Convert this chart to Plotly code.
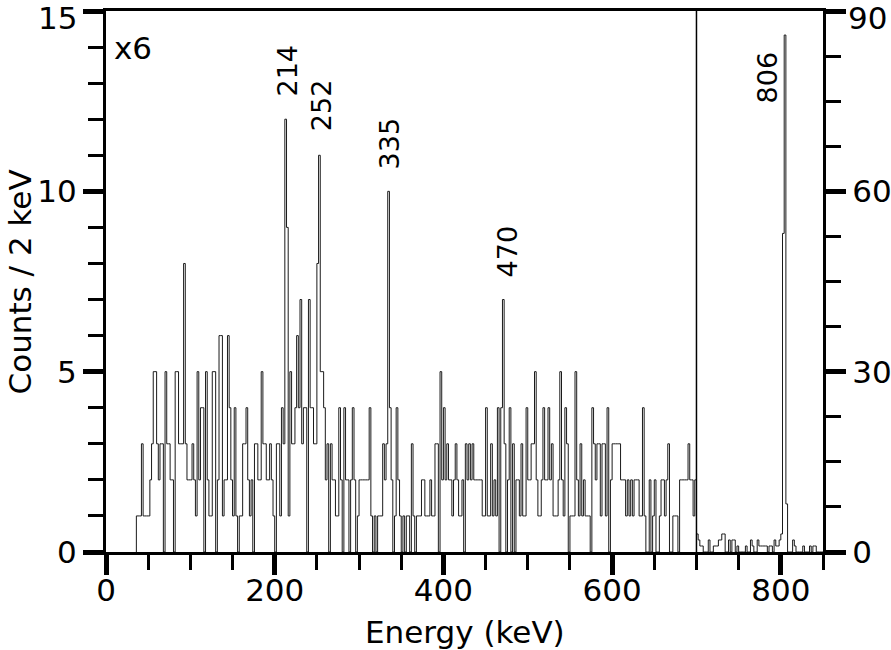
import plotly.graph_objects as go

# ---- data ----
low_start_kev = 36
bin_kev = 2
counts_low = [
    1,1,1,3,1,1,1,1,2,3,
    5,5,3,2,3,3,0,5,3,3,
    2,2,0,5,5,3,3,3,8,3,
    2,2,2,3,2,1,5,2,4,4,
    0,5,2,1,1,5,5,0,2,6,
    6,1,2,2,6,4,2,1,4,1,
    0,1,1,3,3,4,2,1,2,0,
    3,3,2,2,5,3,3,2,2,3,
    2,1,0,3,3,1,4,3,12,9,
    1,5,3,3,4,6,4,7,3,4,
    4,0,7,4,4,3,3,8,11,5,
    5,4,2,3,0,3,2,2,1,1,
    4,2,0,4,2,2,0,2,4,2,
    0,1,2,2,2,2,2,2,4,1,
    0,1,0,1,1,1,3,2,3,10,
    4,2,0,1,4,2,1,0,1,0,
    1,1,0,3,1,0,1,1,1,2,
    2,1,1,1,2,1,1,3,3,0,
    5,2,4,2,3,2,2,1,2,3,
    2,1,1,2,0,3,2,3,2,3,
    2,2,2,2,2,1,1,4,1,1,
    3,1,2,1,4,0,4,7,3,0,
    2,4,0,3,0,2,2,1,3,1,
    1,4,2,2,3,3,5,2,1,1,
    2,4,2,2,4,2,3,1,1,1,
    2,5,2,1,4,3,0,1,1,1,
    5,2,1,3,1,2,1,1,1,0,
    4,3,2,3,3,1,3,3,1,4,
    0,2,3,3,3,3,3,2,2,2,
    1,2,1,2,1,2,2,2,1,1,
    4,1,0,0,2,0,1,2,0,0,
    1,2,2,1,2,3,0,0,1,1,
    1,0,2,2,2,2,2,3,2,2,
    1,2,
]
high_start_kev = 700
counts_high = [
    3,2,1,1,0,0,0,2,0,0,
    1,1,1,2,2,3,3,0,0,2,
    0,2,2,0,1,0,0,0,0,1,
    0,0,2,1,0,0,2,1,1,1,
    1,1,0,1,1,0,2,1,1,2,
    3,53,86,8,0,0,0,2,1,0,
    0,0,0,1,0,0,0,1,0,1,
    1,0,0,0,0,
]
peak_labels = ["214", "252", "335", "470"]
peak_label_x = [215, 255, 336, 476]
peak_label_y = [13.36, 12.39, 11.34, 8.32]
high_peak_label = "806"
high_peak_label_x = 784
high_peak_label_y = 79.0
scale_label = "x6"

x_range = [0, 850]
x_ticks = [0, 200, 400, 600, 800]
y_range = [0, 15]
y_ticks = [0, 5, 10, 15]
y2_range = [0, 90]
y2_ticks = [0, 30, 60, 90]


def step_xy(start, width, vals):
    xs = [start]
    ys = [0]
    for i, v in enumerate(vals):
        xs.append(start + i * width)
        ys.append(v)
    xs.append(start + len(vals) * width)
    ys.append(vals[-1])
    return xs, ys


xl, yl = step_xy(low_start_kev, bin_kev, counts_low)
xh, yh = step_xy(high_start_kev, bin_kev, counts_high)

FONT = "DejaVu Sans"
LINE = "#1a1a1a"
TICK_SIZE = 31
TITLE_SIZE = 31

fig = go.Figure()
fig.add_trace(go.Scatter(x=xl, y=yl, mode="lines", line=dict(shape="hv", color=LINE, width=1),
                         showlegend=False, hoverinfo="skip"))
fig.add_trace(go.Scatter(x=xh, y=yh, mode="lines", line=dict(shape="hv", color=LINE, width=1),
                         yaxis="y2", showlegend=False, hoverinfo="skip"))

fig.add_shape(type="line", xref="x", yref="paper", x0=high_start_kev, x1=high_start_kev, y0=0, y1=1,
              line=dict(color="black", width=1.5))

for t, x, y in zip(peak_labels, peak_label_x, peak_label_y):
    fig.add_annotation(x=x, y=y, xref="x", yref="y", text=t, showarrow=False, textangle=-90,
                       font=dict(family=FONT, size=27, color="black"))
fig.add_annotation(x=high_peak_label_x, y=high_peak_label_y, xref="x", yref="y2", text=high_peak_label,
                   showarrow=False, textangle=-90, font=dict(family=FONT, size=27, color="black"))
fig.add_annotation(x=0.009, y=0.968, xref="paper", yref="paper", text=scale_label, showarrow=False,
                   xanchor="left", yanchor="top", font=dict(family=FONT, size=TITLE_SIZE, color="black"))

# top tick labels placed so they stay inside the page
fig.add_annotation(x=0, y=1, xref="paper", yref="paper", text=str(y_ticks[-1]), showarrow=False,
                   xanchor="right", yanchor="top", xshift=-27, yshift=13,
                   font=dict(family=FONT, size=TICK_SIZE, color="black"))
fig.add_annotation(x=1, y=1, xref="paper", yref="paper", text=str(y2_ticks[-1]), showarrow=False,
                   xanchor="left", yanchor="top", xshift=23, yshift=13,
                   font=dict(family=FONT, size=TICK_SIZE, color="black"))

# axis titles
fig.add_annotation(x=0.5, y=-0.148, xref="paper", yref="paper", text="Energy (keV)", showarrow=False,
                   xanchor="center", yanchor="middle", font=dict(family=FONT, size=TITLE_SIZE, color="black"))
fig.add_annotation(x=-0.120, y=0.5, xref="paper", yref="paper", text="Counts / 2 keV", showarrow=False,
                   textangle=-90, xanchor="center", yanchor="middle",
                   font=dict(family=FONT, size=TITLE_SIZE, color="black"))

axis_common = dict(showline=True, linewidth=3, linecolor="black", ticks="outside", ticklen=20,
                   tickwidth=5, tickcolor="black", showgrid=False, zeroline=False,
                   automargin=False,
                   tickfont=dict(family=FONT, size=TICK_SIZE, color="black"))

fig.update_layout(
    width=891, height=650,
    margin=dict(l=106, r=68, t=11, b=98),
    paper_bgcolor="white", plot_bgcolor="white",
    xaxis=dict(range=x_range, tickmode="array", tickvals=x_ticks, mirror=True,
               ticklabelstandoff=-11,
               minor=dict(tick0=0, dtick=50, ticklen=15, tickwidth=2.5, tickcolor="black", ticks="outside"),
               **axis_common),
    yaxis=dict(range=y_range, tickmode="array", tickvals=y_ticks,
               ticktext=[str(v) for v in y_ticks[:-1]] + [""],
               minor=dict(tick0=0, dtick=1, ticklen=15, tickwidth=2.5, tickcolor="black", ticks="outside"),
               **axis_common),
    yaxis2=dict(range=y2_range, overlaying="y", side="right", tickmode="array", tickvals=y2_ticks,
                ticktext=[str(v) for v in y2_ticks[:-1]] + [""],
                minor=dict(tick0=0, dtick=7.5, ticklen=15, tickwidth=2.5, tickcolor="black", ticks="outside"),
                **axis_common),
)

fig.write_html("out.html")
